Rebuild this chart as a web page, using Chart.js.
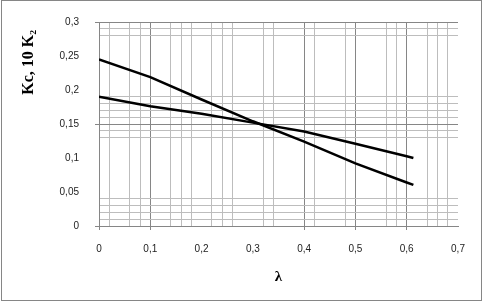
<!DOCTYPE html>
<html><head><meta charset="utf-8">
<script src="https://cdn.jsdelivr.net/npm/chart.js@4"></script>
<style>
html,body{margin:0;padding:0;background:#fff}
#wrap{position:relative;width:482px;height:301px}
#frame{position:absolute;left:1px;top:0;width:481px;height:301px;box-sizing:border-box;border:1px solid #868686;pointer-events:none}
canvas{display:block}
</style>
</head><body>
<div id="wrap"><canvas id="c" width="482" height="301"></canvas><div id="frame"></div></div>
<script>
// data
const lambdaValues = [0, 0.1, 0.2, 0.3, 0.4, 0.5, 0.6, 0.613];
const kSteep = [0.245, 0.219, 0.186, 0.154, 0.124, 0.092, 0.064, 0.0605];
const kFlat  = [0.190, 0.176, 0.165, 0.152, 0.139, 0.121, 0.1025, 0.100];

// axis ticks / grid values
const xLabelValues = [0, 0.1, 0.2, 0.3, 0.4, 0.5, 0.6, 0.7];
const xMajorGrid = [0.1, 0.4, 0.5, 0.6];
const xMinorGrid = [0.02, 0.06, 0.08, 0.14, 0.16, 0.18, 0.22, 0.24, 0.26, 0.32, 0.34, 0.42, 0.48, 0.56, 0.58, 0.64, 0.66, 0.68];
const yLabelValues = [0, 0.05, 0.1, 0.15, 0.2, 0.25, 0.3];
const yMajorGrid = [0.15, 0.3];
const yMinorGrid = [0.01, 0.02, 0.03, 0.04, 0.13, 0.14, 0.16, 0.17, 0.18, 0.19, 0.28, 0.29];

const MAJOR = '#868686', MINOR = '#bdbdbd', NONE = 'rgba(0,0,0,0)';
const has = (arr, v) => arr.some(a => Math.abs(a - v) < 1e-6);
const fmt = v => String(Math.round(v * 100) / 100).replace('.', ',');
const allTicks = (...lists) => [...new Set([].concat(...lists).map(v => Math.round(v * 1000) / 1000))].sort((a, b) => a - b);

const xTicks = allTicks(xLabelValues, xMajorGrid, xMinorGrid);
const yTicks = allTicks(yLabelValues, yMajorGrid, yMinorGrid);

function gridColor(major, minor) {
  return ctx => {
    const v = ctx.tick ? ctx.tick.value : null;
    if (v === null) return NONE;
    if (has(major, v)) return MAJOR;
    if (has(minor, v)) return MINOR;
    return NONE;
  };
}
function tickColor(major) {
  return ctx => {
    const v = ctx.tick ? ctx.tick.value : null;
    if (v === null) return NONE;
    if (Math.abs(v) < 1e-6 || has(major, v)) return MAJOR;
    return NONE;
  };
}

const toPts = ys => ys.map((y, i) => ({x: lambdaValues[i], y}));

new Chart(document.getElementById('c'), {
  type: 'line',
  data: {
    datasets: [
      {data: toPts(kSteep), borderColor: '#000', borderWidth: 2.5, pointRadius: 0, tension: 0, fill: false},
      {data: toPts(kFlat), borderColor: '#000', borderWidth: 2.5, pointRadius: 0, tension: 0, fill: false}
    ]
  },
  options: {
    responsive: false,
    animation: false,
    layout: {padding: {left: 0, right: 24, top: 15, bottom: 0}},
    plugins: {legend: {display: false}, tooltip: {enabled: false}},
    scales: {
      x: {
        type: 'linear', min: 0, max: 0.7,
        afterBuildTicks: s => { s.ticks = xTicks.map(v => ({value: v})); },
        afterFit: s => { s.height = 75; },
        ticks: {
          autoSkip: false, maxRotation: 0, minRotation: 0, padding: 13,
          color: '#222', font: {family: 'Liberation Sans', size: 10},
          callback: v => has(xLabelValues, v) ? fmt(v) : ''
        },
        grid: {color: gridColor(xMajorGrid, xMinorGrid), tickColor: tickColor(xMajorGrid), tickLength: 4, lineWidth: 1},
        border: {display: true, color: MAJOR, width: 1},
        title: {display: true, text: 'λ', color: '#000', font: {family: 'Liberation Serif', size: 15, weight: 'bold'}, padding: {top: 0, bottom: 15}}
      },
      y: {
        type: 'linear', min: 0, max: 0.3,
        afterBuildTicks: s => { s.ticks = yTicks.map(v => ({value: v})); },
        afterFit: s => { s.width = 99; },
        ticks: {
          autoSkip: false, padding: 16,
          color: '#222', font: {family: 'Liberation Sans', size: 10},
          callback: v => has(yLabelValues, v) ? fmt(v) : ''
        },
        grid: {color: gridColor(yMajorGrid, yMinorGrid), tickColor: tickColor(yMajorGrid), tickLength: 4, lineWidth: 1},
        border: {display: true, color: MAJOR, width: 1},
        title: {display: true, align: 'end', text: 'Kc, 10 K\u2082\u00a0\u00a0', color: '#000', font: {family: 'Liberation Serif', size: 16, weight: 'bold'}, padding: {top: 19, bottom: 0}}
      }
    }
  }
});
</script>
</body></html>
